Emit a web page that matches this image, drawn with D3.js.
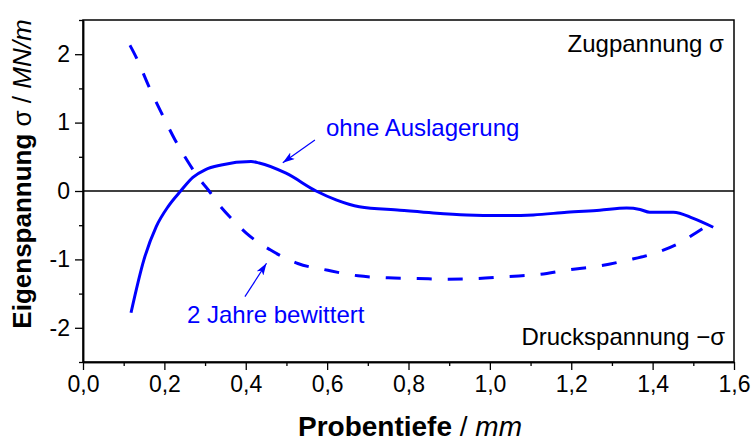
<!DOCTYPE html>
<html>
<head>
<meta charset="utf-8">
<script src="https://cdn.jsdelivr.net/npm/d3@7"></script>
<style>
  body { margin: 0; background: #fff; }
  text { font-family: "Liberation Sans", Arial, sans-serif; }
</style>
</head>
<body>
<svg id="chart" width="753" height="444"></svg>
<script>
// ohne Auslagerung (solid)
var depthOhne  = [0.118, 0.150, 0.180, 0.210, 0.240, 0.270, 0.300, 0.340, 0.413, 0.433, 0.499, 0.573, 0.622, 0.679,
                  0.779, 0.861, 0.943, 1.025, 1.107, 1.189, 1.270, 1.336, 1.369, 1.393, 1.451, 1.500, 1.549]
var stressOhne = [-1.78, -1.00, -0.52, -0.22, 0.00, 0.20, 0.31, 0.38, 0.43, 0.41, 0.26, 0.00, -0.13, -0.23,
                  -0.28, -0.32, -0.35, -0.36, -0.35, -0.31, -0.28, -0.25, -0.27, -0.31, -0.31, -0.40, -0.53]

// 2 Jahre bewittert (dashed)
var depthBew  = [0.1155, 0.132, 0.161, 0.193, 0.226, 0.263, 0.288, 0.308, 0.329, 0.376, 0.402, 0.460, 0.528,
                 0.602, 0.676, 0.750, 0.823, 0.897, 0.971, 1.045, 1.121, 1.195, 1.266, 1.339, 1.410, 1.475, 1.504, 1.549]
var stressBew = [2.13, 1.94, 1.54, 1.14, 0.75, 0.38, 0.16, 0.015, -0.16, -0.47, -0.62, -0.86, -1.06,
                 -1.16, -1.24, -1.27, -1.28, -1.29, -1.28, -1.25, -1.22, -1.15, -1.10, -1.01, -0.90, -0.73, -0.62, -0.45]

var xMajor = [0, 0.2, 0.4, 0.6, 0.8, 1.0, 1.2, 1.4, 1.6]
var xMinor = [0.1, 0.3, 0.5, 0.7, 0.9, 1.1, 1.3, 1.5]
var yMajor = [-2, -1, 0, 1, 2]
var yMinor = [-2.5, -1.5, -0.5, 0.5, 1.5, 2.5]

var blue = "#0000ff"
var svg = d3.select("#chart")

var x = d3.scaleLinear().domain([0, 1.6]).range([83, 734])
var y = d3.scaleLinear().domain([-2.5, 2.5]).range([362, 20])

var fmtX = function(d) { return d3.format(".1f")(d).replace(".", ",") }
var fmtY = function(d) { return String(d) }

// frame
svg.append("rect")
  .attr("x", x(0)).attr("y", y(2.5))
  .attr("width", x(1.6) - x(0)).attr("height", y(-2.5) - y(2.5))
  .attr("fill", "none").attr("stroke", "#000").attr("stroke-width", 1.5)

// axes
svg.append("g").attr("transform", `translate(0,${y(-2.5)})`)
  .call(d3.axisBottom(x).tickValues(xMajor).tickFormat(fmtX).tickSize(8).tickPadding(6).tickSizeOuter(0))
svg.append("g").attr("transform", `translate(0,${y(-2.5)})`)
  .call(d3.axisBottom(x).tickValues(xMinor).tickFormat("").tickSize(4).tickSizeOuter(0))

svg.append("g").attr("transform", `translate(${x(0)},0)`)
  .call(d3.axisLeft(y).tickValues(yMajor).tickFormat(fmtY).tickSize(8).tickPadding(5).tickSizeOuter(0))
svg.append("g").attr("transform", `translate(${x(0)},0)`)
  .call(d3.axisLeft(y).tickValues(yMinor).tickFormat("").tickSize(4).tickSizeOuter(0))

svg.selectAll(".domain").attr("stroke", "#000").attr("stroke-width", 1.5)
svg.selectAll(".tick line").attr("stroke", "#000").attr("stroke-width", 1.3)
svg.selectAll(".tick text").attr("fill", "#000").style("font-size", "23px")
  .style("font-family", "Liberation Sans, Arial, sans-serif")

// zero line
svg.append("line")
  .attr("x1", x(0)).attr("x2", x(1.6))
  .attr("y1", y(0)).attr("y2", y(0))
  .attr("stroke", "#000").attr("stroke-width", 1.5)

// curves
var line = d3.line()
  .x(function(d) { return x(d[0]) })
  .y(function(d) { return y(d[1]) })
  .curve(d3.curveMonotoneX)

svg.append("path")
  .datum(d3.zip(depthBew, stressBew))
  .attr("d", line)
  .attr("fill", "none").attr("stroke", blue).attr("stroke-width", 3)
  .attr("stroke-dasharray", "15,16")

svg.append("path")
  .datum(d3.zip(depthOhne, stressOhne))
  .attr("d", line)
  .attr("fill", "none").attr("stroke", blue).attr("stroke-width", 3)

// arrows
svg.append("defs").append("marker")
  .attr("id", "arr")
  .attr("markerUnits", "userSpaceOnUse")
  .attr("markerWidth", 12).attr("markerHeight", 8)
  .attr("refX", 12).attr("refY", 4)
  .attr("orient", "auto")
  .append("path").attr("d", "M0,0 L12,4 L0,8 L3,4 z").attr("fill", blue)

function arrow(x1, y1, x2, y2) {
  svg.append("line")
    .attr("x1", x(x1)).attr("y1", y(y1))
    .attr("x2", x(x2)).attr("y2", y(y2))
    .attr("stroke", blue).attr("stroke-width", 1.2)
    .attr("marker-end", "url(#arr)")
}
arrow(0.570, 0.746, 0.491, 0.414)
arrow(0.398, -1.545, 0.451, -1.057)

// labels
function label(txt, px, py, anchor, color) {
  svg.append("text")
    .attr("x", x(px)).attr("y", y(py))
    .attr("text-anchor", anchor)
    .attr("fill", color)
    .style("font-size", "24px")
    .text(txt)
}
label("ohne Auslagerung", 0.597, 0.804, "start", blue)
label("2 Jahre bewittert", 0.2556, -1.93, "start", blue)
label("Zugpannung \u03c3", 1.575, 2.03, "end", "#000")
label("Druckspannung \u2212\u03c3", 1.578, -2.25, "end", "#000")

// axis titles
var xt = svg.append("text")
  .attr("x", 410).attr("y", 436)
  .attr("text-anchor", "middle")
  .style("font-size", "28px")
xt.append("tspan").style("font-weight", "bold").text("Probentiefe")
xt.append("tspan").text(" / ")
xt.append("tspan").style("font-style", "italic").text("mm")

var yt = svg.append("text")
  .attr("transform", "translate(31,174) rotate(-90)")
  .attr("text-anchor", "middle")
  .style("font-size", "26px")
yt.append("tspan").style("font-weight", "bold").text("Eigenspannung ")
yt.append("tspan").text("\u03c3 / ")
yt.append("tspan").style("font-style", "italic").text("MN/m")
</script>
</body>
</html>
